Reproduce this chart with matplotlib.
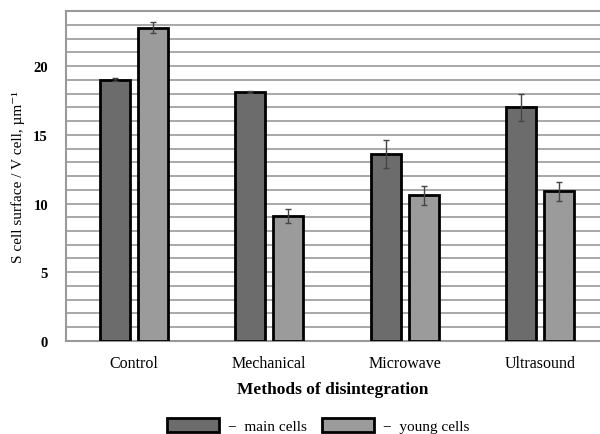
import matplotlib
matplotlib.use("Agg")
import matplotlib.pyplot as plt
import numpy as np
from matplotlib.patches import Patch

categories = ["Control", "Mechanical", "Microwave", "Ultrasound"]
main_cells = [19.0, 18.1, 13.6, 17.0]
main_err = [0.1, 0.05, 1.0, 1.0]
young_cells = [22.8, 9.1, 10.6, 10.9]
young_err = [0.4, 0.5, 0.7, 0.7]
yticks = [0, 5, 10, 15, 20]

plt.rcParams['font.family'] = ['Liberation Serif', 'DejaVu Serif']

fig = plt.figure(figsize=(6, 4.35), dpi=100)
ax = fig.add_axes([0.11, 0.2138, 0.89, 0.7586])

x = np.arange(len(categories))
w = 0.22
off = 0.14
ax.bar(x - off, main_cells, width=w, color="#6c6c6c", edgecolor="black", linewidth=2, zorder=3)
ax.bar(x + off, young_cells, width=w, color="#9b9b9b", edgecolor="black", linewidth=2, zorder=3)
ax.errorbar(x - off, main_cells, yerr=main_err, fmt="none", ecolor="#444444", elinewidth=1, capsize=2, zorder=4)
ax.errorbar(x + off, young_cells, yerr=young_err, fmt="none", ecolor="#444444", elinewidth=1, capsize=2, zorder=4)

ax.set_xlim(-0.5, 3.44)
ax.set_ylim(0, 24)
ax.set_yticks(yticks)
ax.set_yticklabels([str(v) for v in yticks], fontweight="bold", fontsize=10.5)
ax.set_yticks(np.arange(0, 25, 1), minor=True)
ax.yaxis.grid(True, which="both", color="#a8a8a8", linewidth=1.4, zorder=0)
ax.tick_params(axis="y", which="both", length=0, pad=13)
ax.set_xticks(x)
ax.set_xticklabels(categories, fontsize=11.5)
ax.tick_params(axis="x", length=0, pad=10)

for s in ["left", "bottom", "top"]:
    ax.spines[s].set_color("#999999")
    ax.spines[s].set_linewidth(1.5)
ax.spines["right"].set_visible(False)

ax.set_ylabel("S cell surface / V cell, µm⁻¹", fontsize=11, labelpad=6)
ax.set_xlabel("Methods of disintegration", fontsize=12.5, fontweight="bold", labelpad=7)

handles = [Patch(facecolor="#6c6c6c", edgecolor="black", linewidth=2),
           Patch(facecolor="#9b9b9b", edgecolor="black", linewidth=2)]
fig.legend(handles, ["−  main cells", "−  young cells"], loc="center",
           bbox_to_anchor=(0.53, 0.02), ncol=2, frameon=False, fontsize=11,
           handlelength=3.4, handleheight=1.1, columnspacing=1.0, handletextpad=0.6)

fig.savefig("out.png", dpi=100)
